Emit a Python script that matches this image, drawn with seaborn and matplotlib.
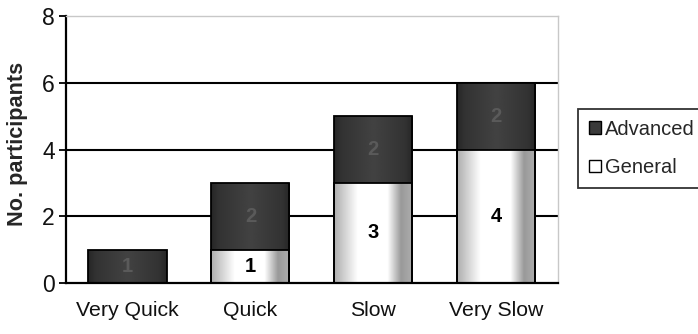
import numpy as np
import pandas as pd
import matplotlib
matplotlib.use("Agg")
import matplotlib.pyplot as plt
import seaborn as sns
from matplotlib.patches import Patch

# data
categories = ["Very Quick", "Quick", "Slow", "Very Slow"]
general = [0, 1, 3, 4]
advanced = [1, 2, 2, 2]


def shade_bars(ax, patches, stops, levels):
    """Fill each bar with a horizontal grey gradient clipped to the bar."""
    ramp = np.interp(np.linspace(0, 1, 200), stops, levels).reshape(1, -1)
    for p in patches:
        x0, y0 = p.get_x(), p.get_y()
        w, h = p.get_width(), p.get_height()
        if h <= 0:
            continue
        im = ax.imshow(ramp, cmap="gray", vmin=0, vmax=1, aspect="auto",
                       extent=(x0, x0 + w, y0, y0 + h), zorder=1.05,
                       interpolation="bilinear")
        im.set_clip_path(p)
        p.set_facecolor("none")
        p.set_zorder(1.1)


def main():
    sns.set_style("white")
    plt.rcParams["font.family"] = ["Liberation Sans", "DejaVu Sans"]

    df = pd.DataFrame({"speed": categories, "general": general, "advanced": advanced})
    df["total"] = df["general"] + df["advanced"]

    fig = plt.figure(figsize=(6.98, 3.34), dpi=100)
    ax = fig.add_axes([0.0946, 0.1527, 0.7044, 0.7993])

    sns.barplot(data=df, x="speed", y="total", color="#3a3a3a", width=0.635,
                edgecolor="black", linewidth=1.3, ax=ax)
    n_adv = len(ax.patches)
    sns.barplot(data=df, x="speed", y="general", color="white", width=0.635,
                edgecolor="black", linewidth=1.3, ax=ax)
    adv_patches = ax.patches[:n_adv]
    gen_patches = ax.patches[n_adv:]

    shade_bars(ax, adv_patches, [0, 0.1, 0.5, 0.9, 1], [0.15, 0.2, 0.26, 0.2, 0.15])
    shade_bars(ax, gen_patches, [0, 0.3, 0.68, 0.85, 1], [0.68, 1.0, 1.0, 0.6, 0.68])

    # segment labels
    for i in range(len(categories)):
        g, a = general[i], advanced[i]
        if g > 0:
            ax.text(i, g / 2, str(g), ha="center", va="center", fontsize=14.5,
                    fontweight="bold", color="black", zorder=3)
        ax.text(i, g + a / 2, str(a), ha="center", va="center", fontsize=14.5,
                fontweight="bold", color="#5a5a5a", zorder=3)

    ax.set_xlim(-0.5, 3.5)
    ax.set_ylim(0, 8)
    ax.set_yticks([0, 2, 4, 6, 8])
    ax.set_axisbelow(True)
    for yv in [2, 4, 6]:
        ax.axhline(yv, color="black", linewidth=1.5, zorder=0.5)

    for side in ["left", "bottom"]:
        ax.spines[side].set_color("black")
        ax.spines[side].set_linewidth(1.6)
    for side in ["top", "right"]:
        ax.spines[side].set_color("#c8c8c8")
        ax.spines[side].set_linewidth(1.0)

    ax.set_xticks(np.arange(-0.5, 4, 1), minor=True)
    ax.tick_params(axis="x", which="major", length=0, pad=13, labelsize=15.3,
                   labelcolor="#111111")
    ax.tick_params(axis="x", which="minor", length=5, width=1.3, color="black",
                   direction="out")
    ax.tick_params(axis="y", length=5, width=1.3, color="black", direction="out",
                   pad=3, labelsize=16.5, left=True, labelcolor="#111111")

    ax.set_xlabel("")
    ax.set_ylabel("No. participants", fontsize=15.6, fontweight="bold")
    ax.yaxis.set_label_coords(-0.078, 0.52)

    handles = [Patch(facecolor="#3a3a3a", edgecolor="black", label="Advanced"),
               Patch(facecolor="white", edgecolor="black", label="General")]
    leg = fig.legend(handles=handles, loc="upper left", mode="expand",
                     bbox_to_anchor=(0.828, 0.434, 0.25, 0.24), fontsize=14.5,
                     frameon=True, fancybox=False, handlelength=0.6,
                     handleheight=0.6, handletextpad=0.2, borderpad=0.55,
                     labelspacing=0.95, borderaxespad=0)
    leg.get_frame().set_edgecolor("black")
    leg.get_frame().set_linewidth(1.3)

    fig.savefig("out.png", dpi=100)


if __name__ == "__main__":
    main()
